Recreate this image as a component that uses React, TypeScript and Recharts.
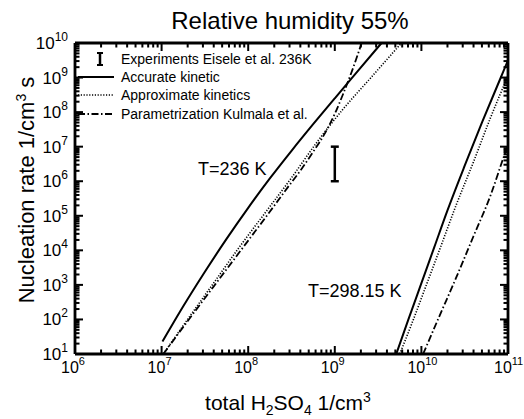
import React from "react";
import { LineChart, Line, XAxis, YAxis } from "recharts";

const FONT = "'Liberation Sans', Arial, Helvetica, sans-serif";

// log10 of H2SO4 concentration (1/cm3) and nucleation rate (1/cm3 s)
const acc236LogC = [7.01, 7.25, 7.5, 7.75, 8.0, 8.25, 8.5, 8.75, 9.0, 9.25, 9.54];
const acc236LogJ = [1.36, 2.38, 3.38, 4.33, 5.23, 6.08, 6.88, 7.65, 8.4, 9.14, 10.0];

const approx236LogC = [7.02, 7.3, 7.6, 7.9, 8.2, 8.5, 8.8, 9.1, 9.4, 9.77];
const approx236LogJ = [1.0, 2.0, 3.05, 4.1, 5.1, 6.1, 7.15, 8.1, 8.95, 10.0];

const kulm236LogC = [7.02, 7.3, 7.6, 7.9, 8.2, 8.45, 8.6, 8.75, 8.9, 9.0, 9.1, 9.2, 9.31];
const kulm236LogJ = [1.0, 1.95, 2.95, 3.95, 4.95, 5.8, 6.3, 6.85, 7.45, 7.95, 8.55, 9.2, 10.0];

const acc298LogC = [9.71, 9.85, 10.0, 10.15, 10.3, 10.5, 10.7, 10.9, 11.0];
const acc298LogJ = [1.0, 2.0, 3.05, 4.1, 5.15, 6.45, 7.7, 8.9, 9.5];

const approx298LogC = [9.75, 9.9, 10.05, 10.2, 10.4, 10.6, 10.8, 11.0];
const approx298LogJ = [1.0, 1.95, 2.95, 3.95, 5.3, 6.55, 7.85, 9.05];

const kulm298LogC = [10.02, 10.2, 10.4, 10.6, 10.8, 10.95, 11.0];
const kulm298LogJ = [1.0, 2.05, 3.2, 4.4, 5.6, 6.7, 7.05];

// Eisele et al. experiment, 236 K
const expLogC = [9, 9];
const expLogJ = [6, 7];

const decadesX = [6, 7, 8, 9, 10, 11];
const decadesY = [1, 2, 3, 4, 5, 6, 7, 8, 9, 10];
const minorSteps = [2, 3, 4, 5, 6, 7, 8, 9];

const legendLabels = [
  "Experiments Eisele et al. 236K",
  "Accurate kinetic",
  "Approximate kinetics",
  "Parametrization Kulmala et al.",
];

const DOTTED = "1.2 1.6";
const DASHDOT = "7 2.5 1.5 2.5";

const toPoints = (logC: number[], logJ: number[]) =>
  logC.map((c, i) => ({ c: 10 ** c, j: 10 ** logJ[i] }));

function ticksFor(decades: number[]) {
  const out: number[] = [];
  decades.forEach((d, i) => {
    out.push(10 ** d);
    if (i < decades.length - 1) minorSteps.forEach((m) => out.push(m * 10 ** d));
  });
  return out;
}

const xTicks = ticksFor(decadesX);
const yTicks = ticksFor(decadesY);
const xDomain = [10 ** decadesX[0], 10 ** decadesX[decadesX.length - 1]];
const yDomain = [10 ** decadesY[0], 10 ** decadesY[decadesY.length - 1]];

const expOf = (v: number) => Math.round(Math.log10(v));
const isMajor = (v: number) => Math.abs(Math.log10(v) - expOf(v)) < 1e-6;
const MAJOR = 8;
const MINOR = 4.5;
const TICK_W = 2;

function BottomTick({ x, y, payload }: any) {
  const major = isMajor(payload.value);
  return (
    <g>
      <line x1={x} y1={y} x2={x} y2={y - (major ? MAJOR : MINOR)} stroke="#000" strokeWidth={TICK_W} />
      {major && (
        <text x={x - 14} y={y + 19} fontSize={16} fontFamily={FONT} fill="#000">
          <tspan>10</tspan>
          <tspan dy={-8} fontSize={11}>{expOf(payload.value)}</tspan>
        </text>
      )}
    </g>
  );
}

function TopTick({ x, y, payload }: any) {
  const major = isMajor(payload.value);
  return <line x1={x} y1={y} x2={x} y2={y + (major ? MAJOR : MINOR)} stroke="#000" strokeWidth={TICK_W} />;
}

function LeftTick({ x, y, payload }: any) {
  const major = isMajor(payload.value);
  return (
    <g>
      <line x1={x} y1={y} x2={x + (major ? MAJOR : MINOR)} y2={y} stroke="#000" strokeWidth={TICK_W} />
      {major && (
        <text x={x - 7} y={y + 6} textAnchor="end" fontSize={17} fontFamily={FONT} fill="#000">
          <tspan>10</tspan>
          <tspan dy={-8} fontSize={12}>{expOf(payload.value)}</tspan>
        </text>
      )}
    </g>
  );
}

function RightTick({ x, y, payload }: any) {
  const major = isMajor(payload.value);
  return <line x1={x} y1={y} x2={x - (major ? MAJOR : MINOR)} y2={y} stroke="#000" strokeWidth={TICK_W} />;
}

function ErrorCap({ cx, cy }: any) {
  return <line x1={cx - 4} y1={cy} x2={cx + 4} y2={cy} stroke="#000" strokeWidth={2.5} />;
}

const frame = { stroke: "#000", strokeWidth: 2.8 };

function Overlay() {
  const rows = [59, 77, 95, 114];
  return (
    <svg
      width={524}
      height={419}
      style={{ position: "absolute", left: 0, top: 0, pointerEvents: "none" }}
      fontFamily={FONT}
      fill="#000"
    >
      <text x={290} y={29} textAnchor="middle" fontSize={24}>
        Relative humidity 55%
      </text>
      <text transform="translate(34,190) rotate(-90)" textAnchor="middle" fontSize={22}>
        Nucleation rate 1/cm
        <tspan dy={-8} fontSize={14}>3</tspan>
        <tspan dy={8}> s</tspan>
      </text>
      <text x={288} y={410} textAnchor="middle" fontSize={21}>
        total H<tspan dy={5} fontSize={14}>2</tspan>
        <tspan dy={-5}>SO</tspan>
        <tspan dy={5} fontSize={14}>4</tspan>
        <tspan dy={-5}> 1/cm</tspan>
        <tspan dy={-8} fontSize={14}>3</tspan>
      </text>

      {/* legend */}
      <g stroke="#000">
        <line x1={100} y1={rows[0] - 6} x2={100} y2={rows[0] + 6} strokeWidth={2.5} />
        <line x1={97} y1={rows[0] - 6} x2={103} y2={rows[0] - 6} strokeWidth={2} />
        <line x1={97} y1={rows[0] + 6} x2={103} y2={rows[0] + 6} strokeWidth={2} />
        <line x1={78} y1={rows[1]} x2={114} y2={rows[1]} strokeWidth={2} />
        <line x1={78} y1={rows[2]} x2={114} y2={rows[2]} strokeWidth={1.6} strokeDasharray={DOTTED} />
        <line x1={78} y1={rows[3]} x2={114} y2={rows[3]} strokeWidth={1.8} strokeDasharray={DASHDOT} />
      </g>
      {legendLabels.map((t, i) => (
        <text key={t} x={121} y={rows[i] + 5} fontSize={14}>
          {t}
        </text>
      ))}

      <text x={198} y={175} fontSize={18}>
        T=236 K
      </text>
      <text x={308} y={297} fontSize={18}>
        T=298.15 K
      </text>
    </svg>
  );
}

export default function App() {
  const series = [
    { data: toPoints(acc236LogC, acc236LogJ), w: 2, dash: undefined },
    { data: toPoints(approx236LogC, approx236LogJ), w: 1.6, dash: DOTTED },
    { data: toPoints(kulm236LogC, kulm236LogJ), w: 1.8, dash: DASHDOT },
    { data: toPoints(acc298LogC, acc298LogJ), w: 2, dash: undefined },
    { data: toPoints(approx298LogC, approx298LogJ), w: 1.6, dash: DOTTED },
    { data: toPoints(kulm298LogC, kulm298LogJ), w: 1.8, dash: DASHDOT },
  ];

  return (
    <div style={{ position: "absolute", left: 0, top: 0, width: 524, height: 419, background: "#fff" }}>
      <LineChart width={524} height={419} margin={{ top: 42, right: 15, bottom: 25, left: 15 }}>
        <XAxis
          xAxisId="b"
          type="number"
          dataKey="c"
          scale="log"
          domain={xDomain}
          allowDataOverflow
          ticks={xTicks}
          interval={0}
          tickSize={0}
          tickMargin={0}
          tickLine={false}
          axisLine={frame}
          tick={<BottomTick />}
          height={40}
        />
        <XAxis
          xAxisId="t"
          orientation="top"
          type="number"
          dataKey="c"
          scale="log"
          domain={xDomain}
          allowDataOverflow
          ticks={xTicks}
          interval={0}
          tickSize={0}
          tickMargin={0}
          tickLine={false}
          axisLine={frame}
          tick={<TopTick />}
          height={1}
        />
        <YAxis
          yAxisId="l"
          type="number"
          dataKey="j"
          scale="log"
          domain={yDomain}
          allowDataOverflow
          ticks={yTicks}
          interval={0}
          tickSize={0}
          tickMargin={0}
          tickLine={false}
          axisLine={frame}
          tick={<LeftTick />}
          width={60}
        />
        <YAxis
          yAxisId="r"
          orientation="right"
          type="number"
          dataKey="j"
          scale="log"
          domain={yDomain}
          allowDataOverflow
          ticks={yTicks}
          interval={0}
          tickSize={0}
          tickMargin={0}
          tickLine={false}
          axisLine={frame}
          tick={<RightTick />}
          width={1}
        />
        {series.map((s, i) => (
          <Line
            key={i}
            xAxisId="b"
            yAxisId="l"
            data={s.data}
            dataKey="j"
            type="monotone"
            stroke="#000"
            strokeWidth={s.w}
            strokeDasharray={s.dash}
            dot={false}
            isAnimationActive={false}
          />
        ))}
        <Line
          xAxisId="b"
          yAxisId="l"
          data={toPoints(expLogC, expLogJ)}
          dataKey="j"
          stroke="#000"
          strokeWidth={2.5}
          dot={<ErrorCap />}
          isAnimationActive={false}
        />
      </LineChart>
      <Overlay />
    </div>
  );
}
